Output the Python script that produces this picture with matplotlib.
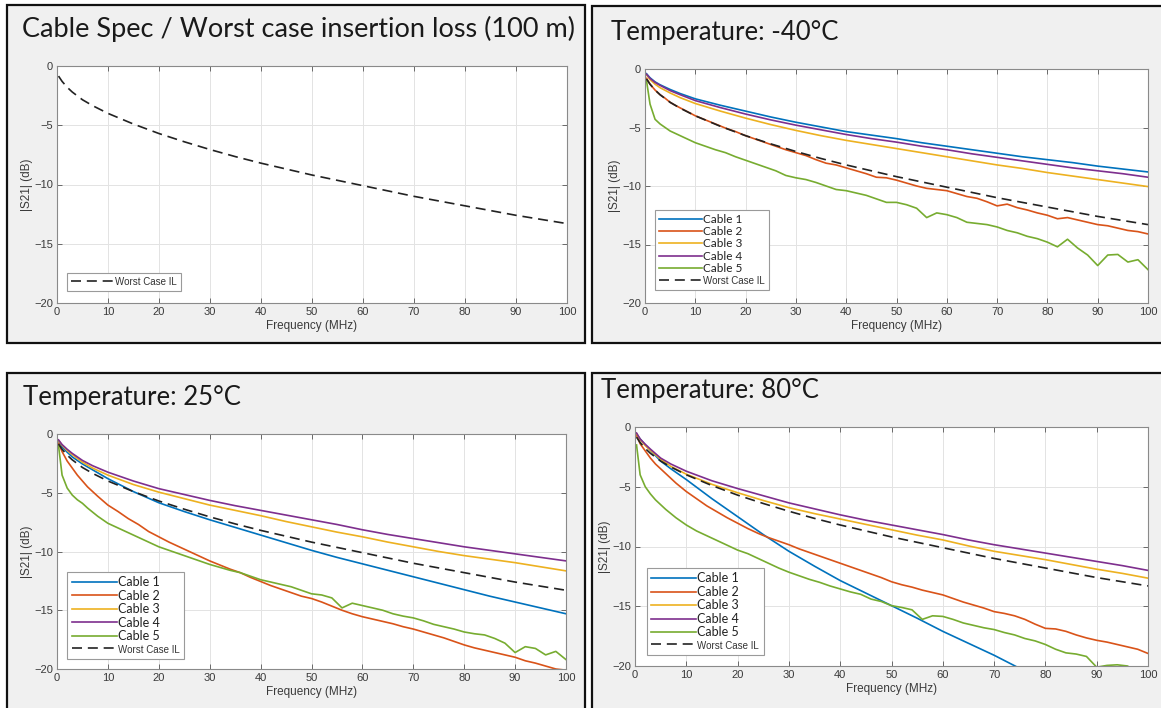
import numpy as np
import matplotlib
matplotlib.use("Agg")
import matplotlib.pyplot as plt
from matplotlib.patches import Rectangle

W, H = 1161, 708

# frequency grids (MHz)
F_COARSE = [0.3, 1, 2, 3, 5, 7, 10, 15, 20, 25, 30, 35, 40, 45, 50,
            55, 60, 65, 70, 75, 80, 85, 90, 95, 100]
F_FINE = [0.3, 1, 2, 3, 4, 5] + list(range(6, 101, 2))

# worst case insertion loss (dB), on F_COARSE
WORST_CASE = [-0.85, -1.3, -1.8, -2.2, -2.85, -3.35, -4.0, -4.9, -5.7, -6.4,
              -7.05, -7.65, -8.2, -8.7, -9.2, -9.65, -10.1, -10.55, -11.0,
              -11.4, -11.8, -12.2, -12.6, -12.95, -13.3]

# -40 C
M40_C1 = [-0.4, -0.75, -1.1, -1.35, -1.75, -2.1, -2.55, -3.1, -3.6, -4.1,
          -4.55, -4.95, -5.35, -5.65, -5.95, -6.3, -6.6, -6.9, -7.2, -7.5,
          -7.75, -8.0, -8.3, -8.55, -8.8]
M40_C3 = [-0.5, -0.9, -1.3, -1.6, -2.05, -2.45, -2.95, -3.6, -4.2, -4.75,
          -5.25, -5.7, -6.1, -6.45, -6.8, -7.15, -7.5, -7.85, -8.2, -8.5,
          -8.85, -9.15, -9.45, -9.75, -10.05]
M40_C4 = [-0.45, -0.8, -1.15, -1.4, -1.85, -2.2, -2.7, -3.3, -3.85, -4.35,
          -4.8, -5.2, -5.6, -5.95, -6.25, -6.6, -6.9, -7.25, -7.55, -7.85,
          -8.15, -8.45, -8.7, -8.95, -9.25]
M40_C2 = [-0.8, -1.3, -1.8, -2.2, -2.5, -2.85,
          -3.1, -3.55, -4.0, -4.35, -4.7, -5.05, -5.35, -5.7, -6.0, -6.3,
          -6.6, -6.9, -7.15, -7.4, -7.75, -8.05, -8.2, -8.45, -8.7, -8.95,
          -9.25, -9.3, -9.5, -9.75, -10.0, -10.2, -10.3, -10.4, -10.65, -10.9,
          -11.05, -11.35, -11.7, -11.55, -11.85, -12.05, -12.3, -12.5, -12.8,
          -12.7, -12.9, -13.1, -13.3, -13.4, -13.6, -13.8, -13.9, -14.1]
M40_C5 = [-1.0, -3.0, -4.3, -4.7, -5.0, -5.3,
          -5.5, -5.9, -6.3, -6.6, -6.9, -7.15, -7.5, -7.8, -8.1, -8.4,
          -8.7, -9.1, -9.3, -9.45, -9.7, -10.0, -10.3, -10.4, -10.6, -10.8,
          -11.1, -11.4, -11.4, -11.6, -11.9, -12.7, -12.3, -12.45, -12.7,
          -13.1, -13.2, -13.3, -13.5, -13.8, -14.0, -14.3, -14.5, -14.8,
          -15.2, -14.55, -15.3, -15.9, -16.8, -15.9, -15.85, -16.5, -16.3,
          -17.15]

# 25 C
P25_C1 = [-0.6, -1.1, -1.55, -1.95, -2.55, -3.05, -3.8, -4.9, -5.85, -6.6,
          -7.3, -7.95, -8.6, -9.25, -9.9, -10.5, -11.05, -11.6, -12.15,
          -12.7, -13.25, -13.8, -14.3, -14.8, -15.3]
P25_C3 = [-0.55, -0.95, -1.4, -1.75, -2.4, -2.9, -3.5, -4.3, -4.95, -5.5,
          -6.05, -6.5, -6.95, -7.45, -7.9, -8.35, -8.75, -9.2, -9.6, -10.0,
          -10.35, -10.65, -10.95, -11.3, -11.65]
P25_C4 = [-0.5, -0.9, -1.3, -1.65, -2.25, -2.7, -3.25, -4.0, -4.65, -5.15,
          -5.65, -6.1, -6.5, -6.9, -7.3, -7.7, -8.15, -8.55, -8.9, -9.25,
          -9.6, -9.9, -10.2, -10.5, -10.8]
P25_C2 = [-0.8, -1.5, -2.3, -2.9, -3.5, -4.0,
          -4.5, -5.3, -6.05, -6.6, -7.2, -7.7, -8.3, -8.75, -9.2, -9.6,
          -10.0, -10.4, -10.8, -11.15, -11.5, -11.8, -12.2, -12.55, -12.9,
          -13.2, -13.5, -13.8, -14.0, -14.3, -14.65, -15.0, -15.3, -15.55,
          -15.75, -15.95, -16.15, -16.4, -16.6, -16.85, -17.1, -17.35,
          -17.65, -17.95, -18.2, -18.4, -18.6, -18.8, -19.0, -19.3, -19.5,
          -19.75, -20.0, -20.1]
P25_C5 = [-1.0, -3.5, -4.6, -5.2, -5.6, -5.9,
          -6.3, -7.0, -7.6, -8.0, -8.4, -8.8, -9.2, -9.6, -9.9, -10.2,
          -10.5, -10.8, -11.1, -11.35, -11.6, -11.8, -12.1, -12.4, -12.6,
          -12.8, -13.0, -13.3, -13.6, -13.7, -13.95, -14.8, -14.4, -14.6,
          -14.8, -15.0, -15.3, -15.5, -15.65, -15.9, -16.2, -16.4, -16.6,
          -16.85, -17.0, -17.1, -17.4, -17.8, -18.6, -18.1, -18.25, -18.8,
          -18.5, -19.2]

# 80 C
P80_C1 = [-0.6, -1.0, -1.5, -1.95, -2.85, -3.5, -4.4, -6.0, -7.5, -9.0,
          -10.4, -11.65, -12.85, -13.9, -14.95, -16.0, -17.1, -18.1, -19.1,
          -20.2, np.nan, np.nan, np.nan, np.nan, np.nan]
P80_C3 = [-0.55, -1.05, -1.55, -1.95, -2.7, -3.3, -3.95, -4.8, -5.5, -6.15,
          -6.75, -7.25, -7.7, -8.15, -8.6, -9.05, -9.45, -9.95, -10.4,
          -10.75, -11.1, -11.5, -11.9, -12.25, -12.65]
P80_C4 = [-0.5, -1.0, -1.45, -1.85, -2.6, -3.1, -3.7, -4.5, -5.15, -5.75,
          -6.35, -6.85, -7.35, -7.8, -8.2, -8.6, -9.0, -9.45, -9.85, -10.2,
          -10.55, -10.9, -11.25, -11.6, -12.0]
P80_C2 = [-0.7, -1.4, -2.0, -2.6, -3.1, -3.5,
          -3.9, -4.7, -5.4, -6.0, -6.6, -7.1, -7.6, -8.05, -8.5, -8.9,
          -9.25, -9.55, -9.85, -10.2, -10.5, -10.8, -11.1, -11.4, -11.7,
          -12.0, -12.3, -12.6, -12.95, -13.2, -13.4, -13.65, -13.85, -14.05,
          -14.35, -14.65, -14.9, -15.15, -15.45, -15.6, -15.8, -16.1, -16.5,
          -16.85, -16.9, -17.1, -17.4, -17.65, -17.85, -18.0, -18.2, -18.4,
          -18.6, -18.95]
P80_C5 = [-1.5, -4.0, -5.0, -5.6, -6.1, -6.5,
          -6.9, -7.6, -8.2, -8.7, -9.1, -9.5, -9.9, -10.3, -10.6, -11.0,
          -11.4, -11.8, -12.15, -12.45, -12.75, -13.0, -13.3, -13.55, -13.8,
          -14.0, -14.4, -14.6, -14.95, -15.1, -15.3, -16.1, -15.8, -15.85,
          -16.1, -16.4, -16.6, -16.8, -16.95, -17.2, -17.4, -17.7, -17.9,
          -18.2, -18.6, -18.9, -19.0, -19.2, -20.1, -19.95, -19.9, -20.0,
          -20.5, -20.8]

LABELS = ["Cable 1", "Cable 2", "Cable 3", "Cable 4", "Cable 5"]
COLORS = ["#0072BD", "#D95319", "#EDB120", "#7E2F8E", "#77AC30"]

TICK_FONT = "Liberation Sans"
TITLE_FONT = "Lato"


def fig_rect(x0, y0, x1, y1):
    return [x0 / W, 1 - y1 / H, (x1 - x0) / W, (y1 - y0) / H]


def panel_box(fig, x0, y0, x1, y1):
    r = Rectangle((x0 / W, 1 - y1 / H), (x1 - x0) / W, (y1 - y0) / H,
                  transform=fig.transFigure, facecolor="#f0f0f0",
                  edgecolor="#111111", linewidth=1.6, zorder=0)
    fig.add_artist(r)


def style_axes(ax):
    ax.set_xlim(0, 100)
    ax.set_ylim(-20, 0)
    ax.set_xticks(range(0, 101, 10))
    ax.set_yticks(range(-20, 1, 5))
    ax.grid(True, color="#e3e3e3", linewidth=0.7)
    ax.set_axisbelow(True)
    ax.tick_params(direction="in", length=3.5, width=0.6, top=True,
                   right=True, colors="#555555", labelcolor="#3a3a3a",
                   labelsize=8, pad=3)
    for lab in ax.get_xticklabels() + ax.get_yticklabels():
        lab.set_fontfamily(TICK_FONT)
    for s in ax.spines.values():
        s.set_color("#8a8a8a")
        s.set_linewidth(0.8)
    ax.set_xlabel("Frequency (MHz)", fontsize=8.5, family=TICK_FONT,
                  color="#3a3a3a", labelpad=2)
    ax.set_ylabel("|S21| (dB)", fontsize=8.5, family=TICK_FONT,
                  color="#3a3a3a", labelpad=1)


def add_legend(ax, anchor, cable_size=8.5):
    leg = ax.legend(loc="lower left", bbox_to_anchor=anchor, fancybox=False,
                    edgecolor="#9a9a9a", framealpha=1, borderpad=0.35,
                    labelspacing=0.12, handlelength=3.6, handletextpad=0.1,
                    borderaxespad=0, fontsize=cable_size)
    leg.get_frame().set_linewidth(0.8)
    texts = leg.get_texts()
    for t in texts:
        if t.get_text() == "Worst Case IL":
            t.set_fontfamily(TICK_FONT)
            t.set_fontsize(7)
            t.set_color("#333333")
        else:
            t.set_fontfamily(TITLE_FONT)
            t.set_color("#222222")
    return leg


def plot_temp(ax, c1, c2, c3, c4, c5):
    coarse = [c1, None, c3, c4, None]
    fine = [None, c2, None, None, c5]
    for i in range(5):
        if coarse[i] is not None:
            ax.plot(F_COARSE, coarse[i], color=COLORS[i], lw=1.2, label=LABELS[i])
        else:
            ax.plot(F_FINE, fine[i], color=COLORS[i], lw=1.2, label=LABELS[i])
    ax.plot(F_COARSE, WORST_CASE, color="#222222", ls=(0, (6, 3.5)), lw=1.2,
            label="Worst Case IL")


def main():
    fig = plt.figure(figsize=(W / 100, H / 100), dpi=100)
    fig.patch.set_facecolor("white")

    panel_box(fig, 7, 5, 585, 343)
    panel_box(fig, 592, 6, 1175, 343)
    panel_box(fig, 7, 373, 585, 720)
    panel_box(fig, 592, 373, 1175, 720)

    title_kw = dict(family=TITLE_FONT, color="#1a1a1a",
                    va="baseline", ha="left")
    fig.text(22 / W, 1 - 37 / H, "Cable Spec / Worst case insertion loss (100 m)",
             fontsize=19.5, **title_kw)
    fig.text(611 / W, 1 - 40 / H, "Temperature: -40°C", fontsize=18.5, **title_kw)
    fig.text(23 / W, 1 - 405 / H, "Temperature: 25°C", fontsize=18.5, **title_kw)
    fig.text(601 / W, 1 - 398 / H, "Temperature: 80°C", fontsize=18.5, **title_kw)

    # spec only
    ax1 = fig.add_axes(fig_rect(57, 66, 567, 303))
    ax1.plot(F_COARSE, WORST_CASE, color="#222222", ls=(0, (6, 3.5)), lw=1.2,
             label="Worst Case IL")
    style_axes(ax1)
    add_legend(ax1, (0.02, 0.05))

    ax2 = fig.add_axes(fig_rect(645, 69, 1148, 303))
    plot_temp(ax2, M40_C1, M40_C2, M40_C3, M40_C4, M40_C5)
    style_axes(ax2)
    add_legend(ax2, (0.02, 0.055), 8.5)

    ax3 = fig.add_axes(fig_rect(57, 434, 566, 669))
    plot_temp(ax3, P25_C1, P25_C2, P25_C3, P25_C4, P25_C5)
    style_axes(ax3)
    add_legend(ax3, (0.02, 0.043), 9)

    ax4 = fig.add_axes(fig_rect(635, 427, 1148, 666))
    plot_temp(ax4, P80_C1, P80_C2, P80_C3, P80_C4, P80_C5)
    style_axes(ax4)
    add_legend(ax4, (0.023, 0.046), 9)

    fig.savefig("out.png", dpi=100, facecolor="white")


if __name__ == "__main__":
    main()
